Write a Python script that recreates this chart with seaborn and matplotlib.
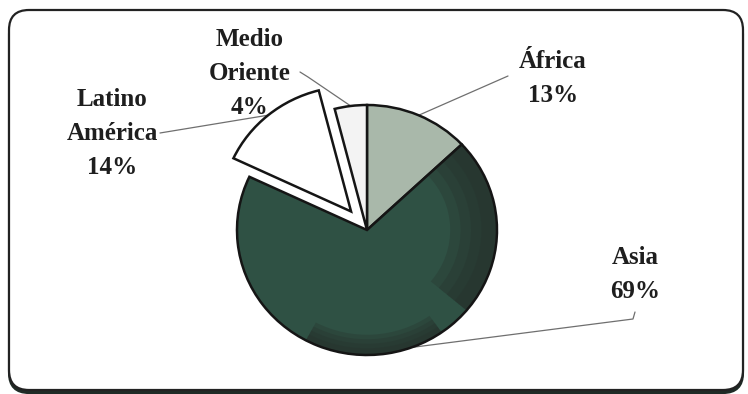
import numpy as np
import matplotlib
matplotlib.use("Agg")
import matplotlib.pyplot as plt
import seaborn as sns
from matplotlib.patches import FancyBboxPatch, Wedge
from matplotlib.transforms import IdentityTransform

# ---- data ----
regions = ["África", "Asia", "Latino\nAmérica", "Medio\nOriente"]
shares = [13, 69, 14, 4]
pct_labels = ["13%", "69%", "14%", "4%"]
slice_colors = ["#a9b8aa", "#2f5144", "#ffffff", "#f3f3f3"]
explode_px = [0, 0, 25, 0]

sns.set_theme(style="white")
plt.rcParams["font.family"] = ["Liberation Serif", "DejaVu Serif"]

W, H = 748, 394
S = 130 / 125  # vertical stretch so the pie is a slight ellipse


def Y(y_px):
    return (H - y_px) * S


fig = plt.figure(figsize=(W / 100, H / 100), dpi=100)
fig.patch.set_facecolor("white")
ax = fig.add_axes([0, 0, 1, 1])
ax.patch.set_alpha(0)

cx, cy = 367, Y(230)
R = 130
wedges, _ = ax.pie(shares, colors=slice_colors, startangle=90, counterclock=False,
                   explode=explode_px, center=(cx, cy), radius=R,
                   wedgeprops=dict(edgecolor="#151515", linewidth=1.8))
ax.set_xlim(0, W)
ax.set_ylim(0, H * S)
ax.set_aspect("auto")
ax.axis("off")

# darker, soft shading inside the Asia slice (texture of the original)
asia = wedges[1]
asia.set_zorder(1.6)
asia.set_facecolor("none")
base = Wedge(asia.center, asia.r, asia.theta1, asia.theta2, facecolor=slice_colors[1],
             edgecolor="none", zorder=1.0)
ax.add_patch(base)
for frac in [0.36, 0.28, 0.2, 0.12]:
    for a1, a2, f in [(-40, 44, 1.0), (-118, -55, 0.45)]:
        shade = Wedge((cx, cy), R, a1, a2, width=R * frac * f, facecolor="#26302c",
                      edgecolor="none", alpha=0.3, zorder=1.5)
        ax.add_patch(shade)
        shade.set_clip_path(asia)

# frame (pixel coordinates)
ident = IdentityTransform()
fig.patches.append(FancyBboxPatch((9, 1), 734, 379,
                                  boxstyle="round,pad=0,rounding_size=20",
                                  transform=ident, facecolor="#1f2b26",
                                  edgecolor="#1f2b26", linewidth=1.5, zorder=-3))
fig.patches.append(FancyBboxPatch((9, 4), 734, 380,
                                  boxstyle="round,pad=0,rounding_size=20",
                                  transform=ident, facecolor="white",
                                  edgecolor="#222222", linewidth=1.6, zorder=-2))

# labels: (text x, text y of first line) in pixels, anchor of leader line in pixels
text_pos = [(553, 62), (635, 258), (112, 100), (250, 40)]
line_step = 34
line_end = [[(508, 76)], [(633, 319), (635, 312)], [(160, 133)], [(308, 77), (300, 72)]]
leader_angle = [None, -70, None, None]

for i, w in enumerate(wedges):
    name_lines = regions[i].split("\n") + [pct_labels[i]]
    tx, ty = text_pos[i]
    for k, ln in enumerate(name_lines):
        ax.text(tx, Y(ty + k * line_step), ln, ha="center", va="center",
                fontsize=18, fontweight="bold", color="#1e1e1e")
    ang = leader_angle[i] if leader_angle[i] is not None else (w.theta1 + w.theta2) / 2
    ex = w.center[0] + w.r * np.cos(np.radians(ang))
    ey = w.center[1] + w.r * np.sin(np.radians(ang))
    pts = [(ex, ey)] + [(px, Y(py)) for px, py in line_end[i]]
    xs, ys = zip(*pts)
    ax.plot(xs, ys, color="#6f6f6f", lw=0.9, zorder=0.8)

fig.savefig("out.png", dpi=100, facecolor="white")
